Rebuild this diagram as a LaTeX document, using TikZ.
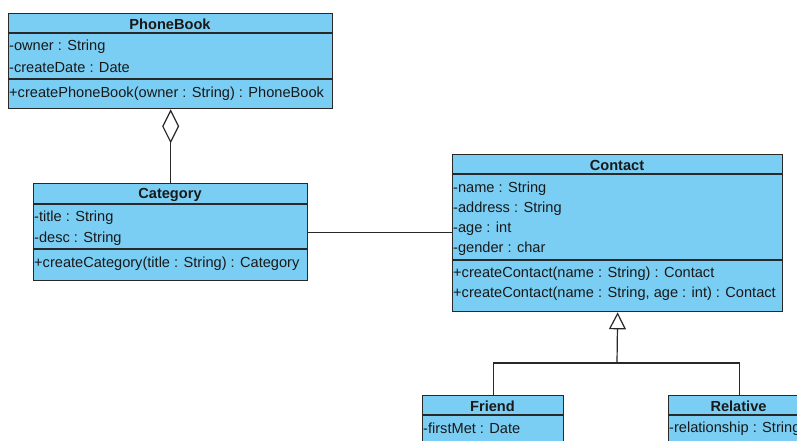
\documentclass[tikz,border=0pt]{standalone}
\usepackage{fontspec}
\setmainfont{Liberation Sans}
\usetikzlibrary{arrows.meta}
\definecolor{clsfill}{RGB}{122,206,244}
\definecolor{clsline}{RGB}{40,40,40}
\tikzset{
  cls/.style={draw=clsline, line width=1.3pt, fill=clsfill, rectangle, inner sep=0pt, anchor=north west},
  sep/.style={draw=clsline, line width=1.1pt},
  ttl/.style={font=\fontsize{14.6}{16}\selectfont\bfseries, inner sep=0pt, text=black!90},
  row/.style={font=\fontsize{14.6}{16}\selectfont, inner sep=0pt, anchor=west, text=black!90},
  conn/.style={draw=clsline, line width=1.2pt},
  agg/.style={conn, -{Diamond[open, fill=white, length=34pt, width=17pt]}},
  gen/.style={conn, -{Triangle[open, fill=white, length=17pt, width=17pt]}}
}
\begin{document}
\begin{tikzpicture}[x=1pt, y=-1pt]
\clip (0,0) rectangle (797,441);
\fill[white] (0,0) rectangle (797,441);

% PhoneBook
\node[cls, minimum width=324pt, minimum height=95pt] (phonebook) at (8,13) {};
\draw[sep] (8,33) -- (332,33);
\draw[sep] (8,79) -- (332,79);
\node[ttl] (pbT) at (170,24) {PhoneBook};
\node[row] (pbA1) at (9,46.5) {-owner : String};
\node[row] (pbA2) at (9,67.5) {-createDate : Date};
\node[row] (pbM1) at (9,93.5) {+createPhoneBook(owner : String) : PhoneBook};

% Category
\node[cls, minimum width=274pt, minimum height=97pt] (category) at (33,183) {};
\draw[sep] (33,204) -- (307,204);
\draw[sep] (33,249) -- (307,249);
\node[ttl] (caT) at (170,195) {Category};
\node[row] (caA1) at (34,217.5) {-title : String};
\node[row] (caA2) at (34,238.5) {-desc : String};
\node[row] (caM1) at (34,263.5) {+createCategory(title : String) : Category};

% Contact
\node[cls, minimum width=330pt, minimum height=157pt] (contact) at (452,154) {};
\draw[sep] (452,174) -- (782,174);
\draw[sep] (452,260) -- (782,260);
\node[ttl] (coT) at (617,165) {Contact};
\node[row] (coA1) at (453,188.5) {-name : String};
\node[row] (coA2) at (453,208.5) {-address : String};
\node[row] (coA3) at (453,228.5) {-age : int};
\node[row] (coA4) at (453,248.5) {-gender : char};
\node[row] (coM1) at (453,273.5) {+createContact(name : String) : Contact};
\node[row] (coM2) at (453,293.5) {+createContact(name : String, age : int) : Contact};

% Friend
\node[cls, minimum width=141pt, minimum height=60pt] (friend) at (422,395) {};
\draw[sep] (422,415) -- (563,415);
\node[ttl] (frT) at (492.5,406) {Friend};
\node[row] (frA1) at (423,428.5) {-firstMet : Date};

% Relative
\node[cls, minimum width=141pt, minimum height=60pt] (relative) at (668,395) {};
\draw[sep] (668,415) -- (809,415);
\node[ttl] (reT) at (738.5,406) {Relative};
\node[row] (reA1) at (669,428.5) {-relationship : String};

% Connectors
\draw[agg] (category.north) -- (phonebook.south);
\draw[conn] (category.east) -- (category.east -| contact.west);
\coordinate (jn) at (617,363);
\draw[conn] (friend.north) |- (jn);
\draw[conn] (relative.north) |- (jn);
\draw[gen] (jn) -- (contact.south);
\end{tikzpicture}
\end{document}
